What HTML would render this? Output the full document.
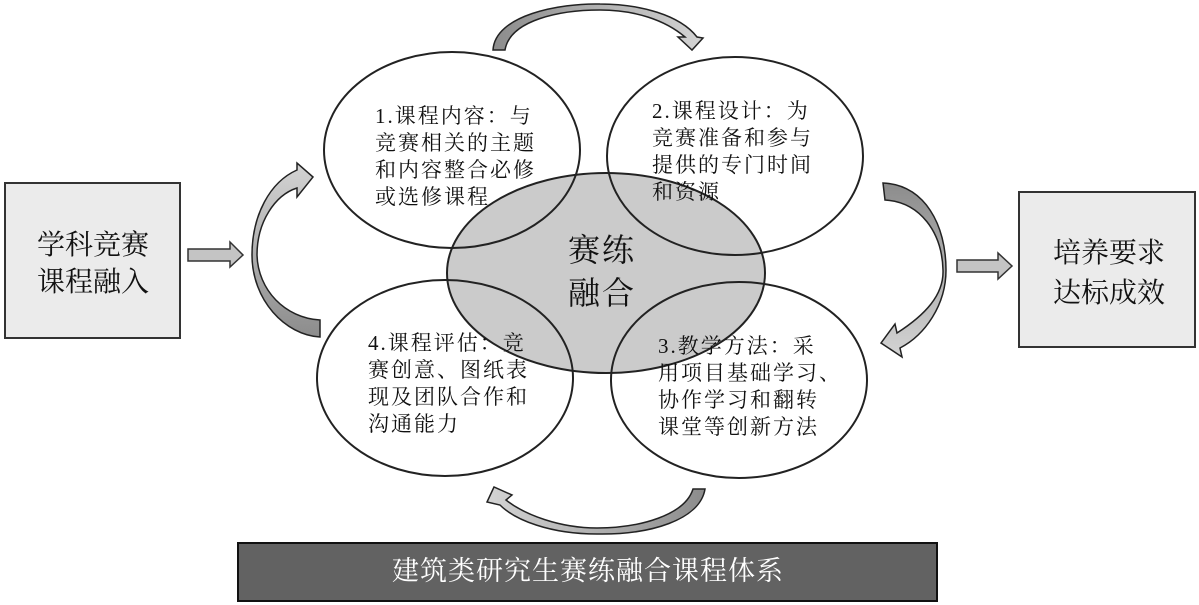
<!DOCTYPE html>
<html><head><meta charset="utf-8"><style>
html,body{margin:0;padding:0;background:#fff;}
svg{display:block;}
text{font-family:"Liberation Serif","Noto Serif CJK SC","Noto Sans CJK SC",serif;fill:#111;}
.e{font-size:21px;letter-spacing:2px;}
</style></head><body>
<svg width="1199" height="605" viewBox="0 0 1199 605" xmlns="http://www.w3.org/2000/svg">
<defs>
<linearGradient id="gTop" x1="0" y1="0" x2="1" y2="0"><stop offset="0" stop-color="#8c8c8c"/><stop offset="1" stop-color="#d4d4d4"/></linearGradient>
<linearGradient id="gRight" x1="0" y1="0" x2="0" y2="1"><stop offset="0" stop-color="#8c8c8c"/><stop offset="1" stop-color="#d4d4d4"/></linearGradient>
<linearGradient id="gBot" x1="1" y1="0" x2="0" y2="0"><stop offset="0" stop-color="#8c8c8c"/><stop offset="1" stop-color="#d4d4d4"/></linearGradient>
<linearGradient id="gLeft" x1="0" y1="1" x2="0" y2="0"><stop offset="0" stop-color="#8c8c8c"/><stop offset="1" stop-color="#d4d4d4"/></linearGradient>
</defs>

<!-- left box -->
<rect x="5" y="183" width="175" height="155" fill="#ebebeb" stroke="#333" stroke-width="2"/>
<text x="93" y="254" font-size="28" text-anchor="middle">学科竞赛</text>
<text x="93" y="291" font-size="28" text-anchor="middle">课程融入</text>

<!-- right box -->
<rect x="1019" y="192" width="176" height="155" fill="#ebebeb" stroke="#333" stroke-width="2"/>
<text x="1109" y="262" font-size="28" text-anchor="middle">培养要求</text>
<text x="1109" y="302" font-size="28" text-anchor="middle">达标成效</text>

<!-- small arrows -->
<path d="M188,249 L230,249 L230,242 L243,255 L230,267 L230,261 L188,261 Z" fill="#c4c4c4" stroke="#333" stroke-width="1.5"/>
<path d="M957,260 L998,260 L998,253 L1012,266 L998,279 L998,272 L957,272 Z" fill="#c4c4c4" stroke="#333" stroke-width="1.5"/>

<!-- central grey ellipse -->
<ellipse cx="606" cy="273" rx="159" ry="100" fill="#cbcbcb" stroke="#222" stroke-width="2"/>

<!-- four ellipses -->
<ellipse cx="452" cy="150" rx="128" ry="98" fill="none" stroke="#222" stroke-width="2"/>
<ellipse cx="735" cy="156" rx="128" ry="99" fill="none" stroke="#222" stroke-width="2"/>
<ellipse cx="445" cy="378" rx="128" ry="98" fill="none" stroke="#222" stroke-width="2"/>
<ellipse cx="739" cy="380" rx="128" ry="98" fill="none" stroke="#222" stroke-width="2"/>

<!-- curved arrows -->
<path d="M493,50 C495,15 560,3 600,4 C640,4 680,15 697,37 L703,38 L692,50 L678,37 L685,37 C665,20 635,10 600,10 C560,10 510,20 505,50 Z" fill="url(#gTop)" stroke="#222" stroke-width="1.5"/>
<path d="M883,183 C925,185 946,225 946,270 C946,305 925,335 900,348 L902,357 L881,343 L895,324 L897,333 C925,315 944,295 943,270 C942,232 920,202 885,200 Z" fill="url(#gRight)" stroke="#222" stroke-width="1.5"/>
<path d="M705,489 C700,520 650,535 597,534 C550,534 515,520 500,505 L487,502 L494,487 L512,495 L506,500 C525,515 560,528 597,528 C640,528 685,515 693,489 Z" fill="url(#gBot)" stroke="#222" stroke-width="1.5"/>
<path d="M320,320 L320,337 C285,335 252,300 252,255 C252,215 270,182 297,170 L297,163 L313,177 L297,197 L297,188 C275,195 257,222 257,255 C258,290 285,318 320,320 Z" fill="url(#gLeft)" stroke="#222" stroke-width="1.5"/>

<!-- center text -->
<text x="602" y="261" font-size="32" text-anchor="middle" letter-spacing="2">赛练</text>
<text x="602" y="304" font-size="32" text-anchor="middle" letter-spacing="2">融合</text>

<!-- ellipse texts -->
<text class="e" x="375" y="123">1.课程内容：与</text>
<text class="e" x="375" y="150">竞赛相关的主题</text>
<text class="e" x="375" y="177">和内容整合必修</text>
<text class="e" x="375" y="204">或选修课程</text>

<text class="e" x="652" y="118">2.课程设计：为</text>
<text class="e" x="652" y="145">竞赛准备和参与</text>
<text class="e" x="652" y="172">提供的专门时间</text>
<text class="e" x="652" y="199">和资源</text>

<text class="e" x="368" y="350">4.课程评估：竞</text>
<text class="e" x="368" y="377">赛创意、图纸表</text>
<text class="e" x="368" y="404">现及团队合作和</text>
<text class="e" x="368" y="431">沟通能力</text>

<text class="e" x="658" y="353">3.教学方法：采</text>
<text class="e" x="658" y="380">用项目基础学习、</text>
<text class="e" x="658" y="407">协作学习和翻转</text>
<text class="e" x="658" y="434">课堂等创新方法</text>

<!-- bottom banner -->
<rect x="238" y="543" width="699" height="58" fill="#626262" stroke="#111" stroke-width="2"/>
<text x="588" y="580" font-size="27" text-anchor="middle" letter-spacing="1" style="fill:#fff">建筑类研究生赛练融合课程体系</text>
</svg>
</body></html>
